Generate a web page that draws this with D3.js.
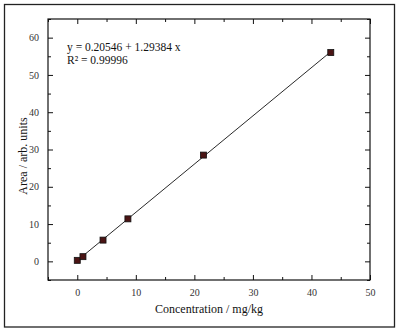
<!DOCTYPE html>
<html><head><meta charset="utf-8">
<script src="https://cdn.jsdelivr.net/npm/d3@7"></script>
<style>body{margin:0;background:#fff}svg{display:block}</style>
</head><body>
<script>
const concentration = [0, 0.97, 4.4, 8.65, 21.55, 43.3];
const area = [0.27, 1.26, 5.7, 11.4, 28.5, 56.0];
const fitIntercept = [0.20546];
const fitSlope = [1.29384];
const xTicks = [0, 10, 20, 30, 40, 50];
const yTicks = [0, 10, 20, 30, 40, 50, 60];
const equationLines = ["y = 0.20546 + 1.29384 x", "R² = 0.99996"];
const xTitle = "Concentration / mg/kg";
const yTitle = "Area / arb. units";

const W = 400, H = 333;
const m = {l: 48, r: 30, t: 19, b: 53};
const svg = d3.select("body").append("svg").attr("width", W).attr("height", H);
const font = "'Liberation Serif','Times New Roman',serif";

svg.append("rect").attr("x", 4.5).attr("y", 4.5).attr("width", 390).attr("height", 322.5)
  .attr("fill", "#fff").attr("stroke", "#222").attr("stroke-width", 1.3);

const x = d3.scaleLinear().domain([-5, 50]).range([m.l, W - m.r]);
const y = d3.scaleLinear().domain([-5, 65]).range([H - m.b, m.t]);

const minorX = d3.range(-5, 50.1, 5);
const minorY = d3.range(-5, 65.1, 5);

function axisG(axisFn, scale, ticks, tx, ty, size, labels) {
  const g = svg.append("g").attr("transform", `translate(${tx},${ty})`)
    .call(axisFn(scale).tickValues(ticks).tickSize(size).tickPadding(size < 0 ? 9 : 3)
      .tickFormat(labels ? d3.format("d") : ""));
  g.select(".domain").remove();
  g.selectAll(".tick line").attr("stroke", "#111").attr("stroke-width", 1);
  g.selectAll(".tick text").attr("font-family", font).attr("font-size", 10).attr("fill", "#333");
  return g;
}
const bottomY = H - m.b, leftX = m.l, rightX = W - m.r, topY = m.t;
// bottom
axisG(d3.axisBottom, x, minorX.filter(v => v % 10 !== 0), 0, bottomY, -3, false);
axisG(d3.axisBottom, x, xTicks, 0, bottomY, -5, true);
// top
axisG(d3.axisTop, x, minorX.filter(v => v % 10 !== 0), 0, topY, -3, false);
axisG(d3.axisTop, x, xTicks, 0, topY, -5, false);
// left
axisG(d3.axisLeft, y, minorY.filter(v => v % 10 !== 0), leftX, 0, -3, false);
axisG(d3.axisLeft, y, yTicks, leftX, 0, -5, true);
// right
axisG(d3.axisRight, y, minorY.filter(v => v % 10 !== 0), rightX, 0, -3, false);
axisG(d3.axisRight, y, yTicks, rightX, 0, -5, false);

svg.append("rect").attr("x", leftX).attr("y", topY).attr("width", rightX - leftX).attr("height", bottomY - topY)
  .attr("fill", "none").attr("stroke", "#111").attr("stroke-width", 1.2);

// fit line
const xs = d3.extent(concentration);
svg.append("line")
  .attr("x1", x(xs[0])).attr("y1", y(fitIntercept[0] + fitSlope[0] * xs[0]))
  .attr("x2", x(xs[1])).attr("y2", y(fitIntercept[0] + fitSlope[0] * xs[1]))
  .attr("stroke", "#111").attr("stroke-width", 0.9);

// markers
svg.selectAll("rect.pt").data(concentration).join("rect").attr("class", "pt")
  .attr("x", (d) => x(d) - 3).attr("y", (d, i) => y(area[i]) - 3)
  .attr("width", 6).attr("height", 6)
  .attr("fill", "#4a1414").attr("stroke", "#111").attr("stroke-width", 0.8);

// equation
svg.selectAll("text.eq").data(equationLines).join("text").attr("class", "eq")
  .attr("x", 67).attr("y", (d, i) => 51 + i * 13)
  .attr("font-family", font).attr("font-size", 11.5).attr("fill", "#111").text(d => d);

// axis titles
svg.append("text").attr("x", (leftX + rightX) / 2).attr("y", 313).attr("text-anchor", "middle")
  .attr("font-family", font).attr("font-size", 12).attr("fill", "#111").text(xTitle);
svg.append("text").attr("transform", `translate(27,156) rotate(-90)`).attr("text-anchor", "middle")
  .attr("font-family", font).attr("font-size", 12).attr("fill", "#111").text(yTitle);
</script>
</body></html>
